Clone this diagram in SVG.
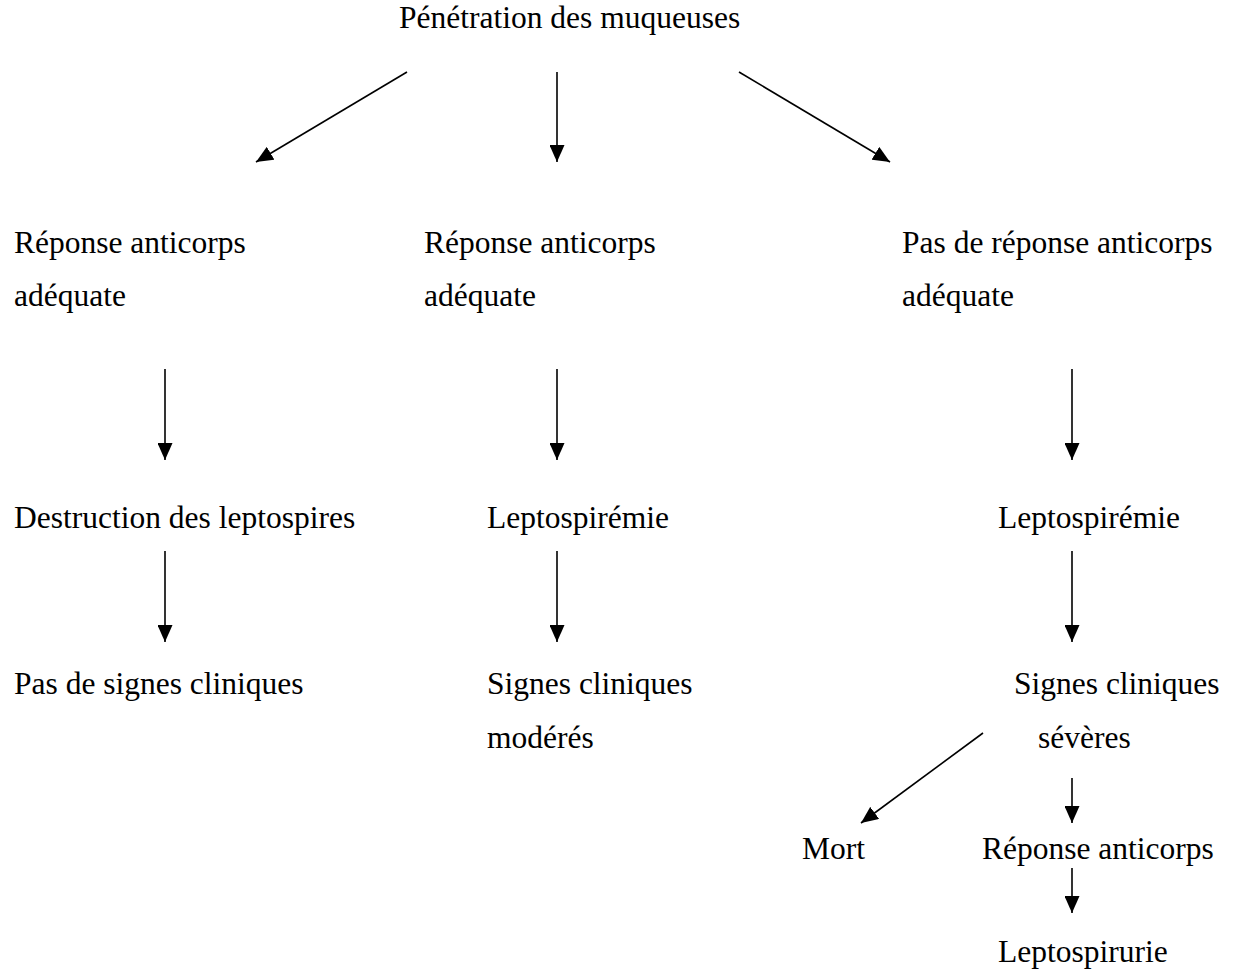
<svg xmlns="http://www.w3.org/2000/svg" width="1234" height="980" viewBox="0 0 1234 980">
<style>
text{font-family:"Liberation Serif","Times New Roman",serif;font-size:31.5px;fill:#000}
.c line{stroke:#000;stroke-width:1.6;marker-end:url(#ah)}
</style>
<defs>
<marker id="ah" markerUnits="userSpaceOnUse" markerWidth="17" markerHeight="15" refX="17" refY="7.5" orient="auto">
<path d="M0,0 L17,7.5 L0,15 z" fill="#000"/>
</marker>
</defs>
<rect width="1234" height="980" fill="#fff"/>
<g class="c" id="connectors">
<line x1="407" y1="72" x2="256" y2="162"/>
<line x1="557" y1="72" x2="557" y2="162"/>
<line x1="739" y1="72" x2="890" y2="162"/>
<line x1="165" y1="369" x2="165" y2="460"/>
<line x1="557" y1="369" x2="557" y2="460"/>
<line x1="1072" y1="369" x2="1072" y2="460"/>
<line x1="165" y1="551" x2="165" y2="642"/>
<line x1="557" y1="551" x2="557" y2="642"/>
<line x1="1072" y1="551" x2="1072" y2="642"/>
<line x1="983" y1="733" x2="861" y2="823"/>
<line x1="1072" y1="778" x2="1072" y2="823"/>
<line x1="1072" y1="868" x2="1072" y2="913"/>
</g>
<g id="n_penetration"><text x="399" y="28">Pénétration des muqueuses</text></g>
<g id="n_rep1"><text x="14" y="253">Réponse anticorps</text><text x="14" y="306">adéquate</text></g>
<g id="n_rep2"><text x="424" y="253">Réponse anticorps</text><text x="424" y="306">adéquate</text></g>
<g id="n_rep3"><text x="902" y="253">Pas de réponse anticorps</text><text x="902" y="306">adéquate</text></g>
<g id="n_destruction"><text x="14" y="528">Destruction des leptospires</text></g>
<g id="n_lepto2"><text x="487" y="528">Leptospirémie</text></g>
<g id="n_lepto3"><text x="998" y="528">Leptospirémie</text></g>
<g id="n_pas_signes"><text x="14" y="694">Pas de signes cliniques</text></g>
<g id="n_moderes"><text x="487" y="694">Signes cliniques</text><text x="487" y="748">modérés</text></g>
<g id="n_severes"><text x="1014" y="694">Signes cliniques</text><text x="1038" y="748">sévères</text></g>
<g id="n_mort"><text x="802" y="859">Mort</text></g>
<g id="n_rep4"><text x="982" y="859">Réponse anticorps</text></g>
<g id="n_leptospirurie"><text x="998" y="962">Leptospirurie</text></g>
</svg>
